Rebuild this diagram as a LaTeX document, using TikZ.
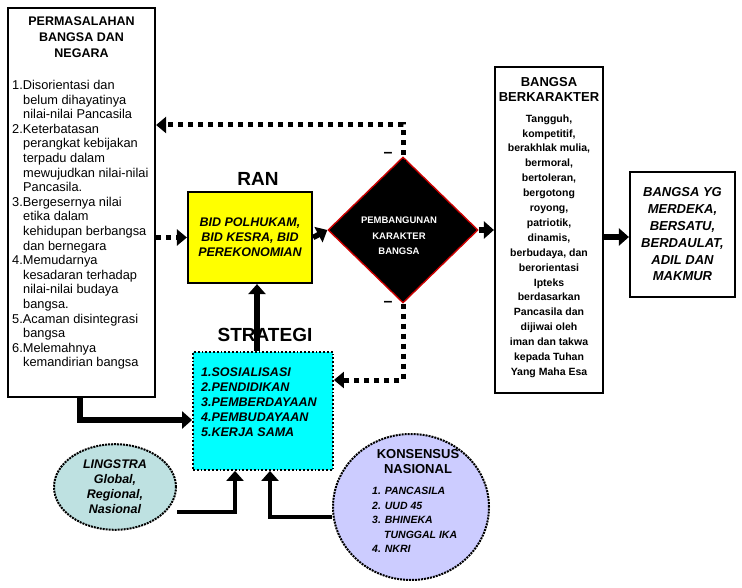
\documentclass[tikz,border=0pt]{standalone}
\usepackage{fontspec}
\setmainfont{Liberation Sans}
\usetikzlibrary{shapes.geometric,arrows.meta}
\definecolor{cy}{RGB}{0,255,255}
\definecolor{yl}{RGB}{255,255,0}
\definecolor{tl}{RGB}{190,225,225}
\definecolor{lv}{RGB}{204,204,255}
\begin{document}
\begin{tikzpicture}[x=1pt,y=-1pt,
 box/.style={draw,line width=2.2pt,fill=white,inner sep=0pt},
 tarr/.style={line width=5.5pt,-{Triangle[length=10pt,width=17pt]}},
 darr/.style={line width=5pt,dash pattern=on 5pt off 5pt,-{Triangle[length=10pt,width=16pt]}},
 lbl/.style={font=\bfseries\fontsize{19}{21}\selectfont}]
\useasboundingbox (0,0) rectangle (742,588);
% left box
\node[box,minimum width=147pt,minimum height=389pt] (left) at (81.5,202.5) {};
\node[align=center,font=\bfseries\fontsize{12.5}{16}\selectfont] (lt) at (81.5,37) {PERMASALAHAN\\BANGSA DAN\\NEGARA};
\node[anchor=north west,align=left,font=\fontsize{12.8}{14.6}\selectfont,inner sep=0pt] (lst) at (12,80) {%
1.Disorientasi dan\\\hspace*{11pt}belum dihayatinya\\\hspace*{11pt}nilai-nilai Pancasila\\
2.Keterbatasan\\\hspace*{11pt}perangkat kebijakan\\\hspace*{11pt}terpadu dalam\\\hspace*{11pt}mewujudkan nilai-nilai\\\hspace*{11pt}Pancasila.\\
3.Bergesernya nilai\\\hspace*{11pt}etika dalam\\\hspace*{11pt}kehidupan berbangsa\\\hspace*{11pt}dan bernegara\\
4.Memudarnya\\\hspace*{11pt}kesadaran terhadap\\\hspace*{11pt}nilai-nilai budaya\\\hspace*{11pt}bangsa.\\
5.Acaman disintegrasi\\\hspace*{11pt}bangsa\\
6.Melemahnya\\\hspace*{11pt}kemandirian bangsa};
% yellow
\node[box,fill=yl,minimum width=124pt,minimum height=91pt,align=center,font=\bfseries\itshape\fontsize{12.5}{15}\selectfont] (ran) at (250,237.5) {BID POLHUKAM,\\BID KESRA, BID\\PEREKONOMIAN};
\node[lbl] (ranl) at (258,179) {RAN};
% cyan
\node[draw,line width=1.8pt,dotted,fill=cy,minimum width=140pt,minimum height=118pt] (str) at (263,411) {};
\node[anchor=north west,align=left,inner sep=0pt,font=\bfseries\itshape\fontsize{12.5}{14.8}\selectfont] (strt) at (201,368) {1.SOSIALISASI\\2.PENDIDIKAN\\3.PEMBERDAYAAN\\4.PEMBUDAYAAN\\5.KERJA SAMA};
\node[lbl] (strl) at (265,335) {STRATEGI};
% diamond
\node[diamond,draw=red!80!black,line width=1.4pt,fill=black,minimum width=150pt,minimum height=146pt,inner sep=0pt] (dia) at (403,230) {};
\node[text=white,align=center,font=\bfseries\fontsize{9.5}{15.5}\selectfont] (diat) at (399,236) {PEMBANGUNAN\\KARAKTER\\BANGSA};
\node[font=\bfseries\fontsize{16}{16}\selectfont] (m1) at (388,155) {--};
\node[font=\bfseries\fontsize{16}{16}\selectfont] (m2) at (388,304) {--};
% bangsa berkarakter
\node[box,minimum width=108pt,minimum height=326pt] (bb) at (549,230) {};
\node[align=center,font=\bfseries\fontsize{13}{15}\selectfont] (bbt) at (549,89) {BANGSA\\BERKARAKTER};
\node[anchor=north,align=center,font=\bfseries\fontsize{10.5}{14.9}\selectfont] (bbl) at (549,111) {Tangguh,\\kompetitif,\\berakhlak mulia,\\bermoral,\\bertoleran,\\bergotong\\royong,\\patriotik,\\dinamis,\\berbudaya, dan\\berorientasi\\Ipteks\\berdasarkan\\Pancasila dan\\dijiwai oleh\\iman dan takwa\\kepada Tuhan\\Yang Maha Esa};
% final
\node[box,minimum width=105pt,minimum height=125pt,align=center,font=\bfseries\itshape\fontsize{13}{16.8}\selectfont] (fin) at (682.5,234.5) {BANGSA YG\\MERDEKA,\\BERSATU,\\BERDAULAT,\\ADIL DAN\\MAKMUR};
% ellipses
\node[ellipse,draw,densely dotted,line width=2pt,fill=tl,minimum width=122pt,minimum height=84pt,align=center,font=\bfseries\itshape\fontsize{12.5}{15}\selectfont] (ling) at (115,487) {LINGSTRA\\Global,\\Regional,\\Nasional};
\node[ellipse,draw,densely dotted,line width=2pt,fill=lv,minimum width=156pt,minimum height=146pt] (kon) at (411,507) {};
\node[align=center,font=\bfseries\fontsize{13}{15}\selectfont] (kt) at (418,462) {KONSENSUS\\NASIONAL};
\node[anchor=north west,align=left,inner sep=0pt,font=\bfseries\itshape\fontsize{10.5}{14.5}\selectfont] (kl) at (372,487) {1. PANCASILA\\2. UUD 45\\3. BHINEKA\\\hspace*{12pt}TUNGGAL IKA\\4. NKRI};
% connectors
\coordinate (c1) at (403,125);
\draw[darr] (dia.center |- 0,185) -- (c1) -- (left.east |- c1);
\draw[darr] (left.east |- ran) -- (ran.west);
\draw[tarr] (ran.east) -- (dia.west);
\draw[tarr] (str.north -| 257,0) -- (ran.south -| 257,0);
\coordinate (c2) at (403,380);
\draw[darr] (dia.south) -- (c2) -- (str.east |- c2);
\draw[tarr] (dia.east) -- (bb.west |- dia.east);
\draw[tarr] (bb.east |- 0,237) -- (fin.west |- 0,237);
\coordinate (c3) at (80,420);
\draw[tarr] (left.south -| c3) -- (c3) -- (str.west |- c3);
\coordinate (c4) at (235,512);
\draw[tarr,line width=4pt] (ling.east |- c4) -- (c4) -- (str.south -| c4);
\coordinate (c5) at (270,517);
\draw[tarr,line width=4pt] (kon.west |- c5) -- (c5) -- (str.south -| c5);
\end{tikzpicture}
\end{document}
